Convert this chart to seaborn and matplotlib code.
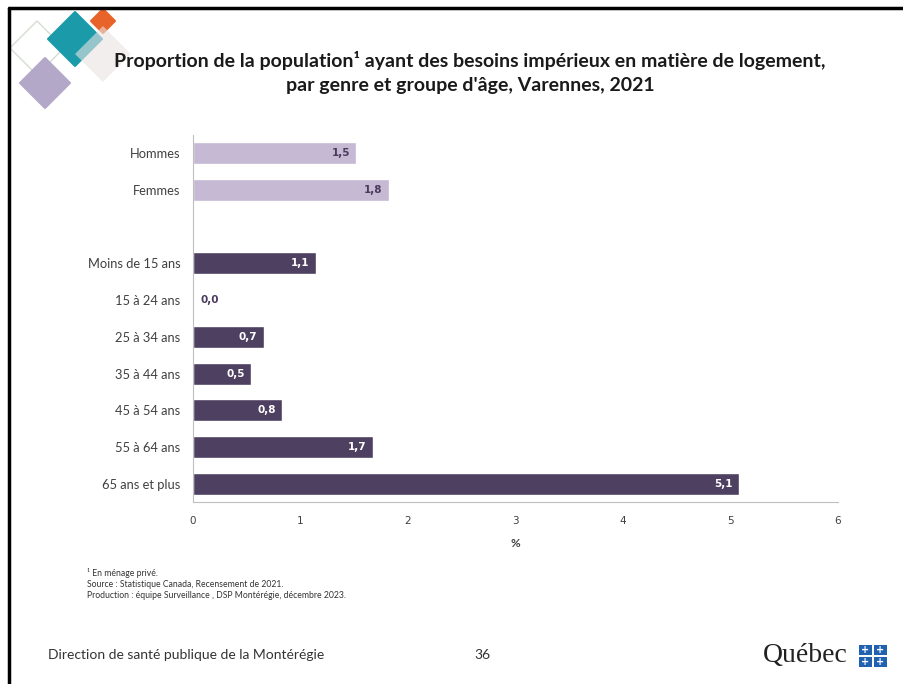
import matplotlib
matplotlib.use("Agg")
import matplotlib.pyplot as plt
import matplotlib.patches as mpatches
import seaborn as sb
import pandas as pd

# Données (%)
categories = ['Hommes', 'Femmes', 'Moins de 15 ans', '15 à 24 ans', '25 à 34 ans',
              '35 à 44 ans', '45 à 54 ans', '55 à 64 ans', '65 ans et plus']
valeurs = [1.52, 1.82, 1.14, 0.0, 0.66, 0.54, 0.83, 1.67, 5.08]
groupes = ['genre', 'genre', 'age', 'age', 'age', 'age', 'age', 'age', 'age']
ordre = ['Hommes', 'Femmes', ' ', 'Moins de 15 ans', '15 à 24 ans', '25 à 34 ans',
         '35 à 44 ans', '45 à 54 ans', '55 à 64 ans', '65 ans et plus']
x_ticks = [0, 1, 2, 3, 4, 5, 6]

couleurs = {'genre': '#c4b5d8', 'age': '#4d3b66'}
couleurs_txt = {'genre': '#4a3b5e', 'age': '#ffffff'}

df = pd.DataFrame({'Categorie': categories, 'Valeur': valeurs, 'Groupe': groupes})

sb.set_style("white")
plt.rcParams['font.family'] = ['Lato', 'DejaVu Sans']

fig = plt.figure(figsize=(9.04, 6.84), dpi=100)

# Cadre de la diapositive (haut et gauche)
fig.add_artist(plt.Line2D([9 / 904, 1], [1 - 8 / 684, 1 - 8 / 684], color='black', lw=2.5))
fig.add_artist(plt.Line2D([9 / 904, 9 / 904], [0, 1 - 8 / 684], color='black', lw=2.5))


# Losanges décoratifs en haut à gauche
def losange(cx, cy, r, **kw):
    pts = [(cx / 904, 1 - (cy - r) / 684), ((cx + r) / 904, 1 - cy / 684),
           (cx / 904, 1 - (cy + r) / 684), ((cx - r) / 904, 1 - cy / 684)]
    fig.add_artist(mpatches.Polygon(pts, closed=True, transform=fig.transFigure,
                                    joinstyle='round', **kw))


losange(37, 48, 27, facecolor='none', edgecolor='#d5ddd3', lw=1)
losange(75, 39, 27, facecolor='#1b9aaa', edgecolor='#1b9aaa', lw=1.5)
losange(103, 21, 12, facecolor='#e8632a', edgecolor='#e8632a', lw=1.5)
losange(103, 54, 28, facecolor='#e9e4e2', edgecolor='none', alpha=0.6)
losange(45, 83, 25, facecolor='#b4a8c9', edgecolor='#b4a8c9', lw=1.5)

# Titre
fig.text(0.52, 1 - 60 / 684, "Proportion de la population\u00b9 ayant des besoins impérieux en matière de logement,",
         ha='center', va='center', fontsize=14, fontweight='bold', color='#1a1a1a')
fig.text(0.52, 1 - 85 / 684, "par genre et groupe d'âge, Varennes, 2021",
         ha='center', va='center', fontsize=14, fontweight='bold', color='#1a1a1a')

# Graphique
ax = fig.add_axes([193 / 904, 1 - 502 / 684, (838 - 193) / 904, (502 - 135) / 684])
sb.barplot(data=df, x='Valeur', y='Categorie', hue='Groupe', order=ordre,
           palette=couleurs, dodge=False, width=0.6, legend=False, ax=ax)

for i, cat in enumerate(ordre):
    if cat not in categories:
        continue
    k = categories.index(cat)
    v = valeurs[k]
    lab = f"{v:.1f}".replace('.', ',')
    if v > 0.2:
        ax.text(v - 0.06, i, lab, ha='right', va='center', fontsize=7.5, fontweight='bold',
                color=couleurs_txt[groupes[k]], family='DejaVu Sans')
    else:
        ax.text(v + 0.07, i, lab, ha='left', va='center', fontsize=7.5, fontweight='bold',
                color='#4a3b5e', family='DejaVu Sans')

ax.set_xlim(0, 6)
ax.set_ylim(len(ordre) - 0.5, -0.5)
ax.set_xticks(x_ticks)
ax.set_xticklabels([str(t) for t in x_ticks], family='DejaVu Sans', fontsize=7.5, color='#404040')
ax.set_xlabel('%', fontsize=8.5, fontweight='bold', color='#404040', labelpad=9)
ax.set_ylabel('')
ax.tick_params(axis='y', length=0, pad=9, labelsize=9.3, labelcolor='#404040')
ax.tick_params(axis='x', direction='out', length=4, width=0.8, color='#bfbfbf', pad=6)
for s in ['top', 'right']:
    ax.spines[s].set_visible(False)
for s in ['left', 'bottom']:
    ax.spines[s].set_color('#bfbfbf')
    ax.spines[s].set_linewidth(0.8)

# Notes
notes = ["\u00b9 En ménage privé.",
         "Source : Statistique Canada, Recensement de 2021.",
         "Production : équipe Surveillance , DSP Montérégie, décembre 2023."]
for j, t in enumerate(notes):
    fig.text(87 / 904, 1 - (573 + j * 11.5) / 684, t, fontsize=6.2, color='#333333', va='center')

# Pied de page
fig.text(48 / 904, 1 - 655 / 684, "Direction de santé publique de la Montérégie",
         fontsize=10, color='#333333', va='center')
fig.text(482 / 904, 1 - 655 / 684, "36", fontsize=10, color='#333333', va='center', ha='center')
fig.text(805 / 904, 1 - 656 / 684, "Québec", fontsize=20, color='#222222', va='center', ha='center',
         family='Liberation Serif')
for dx in [0, 1]:
    for dy in [0, 1]:
        x0 = (859 + dx * 15) / 904
        y0 = 1 - (655 + dy * 12) / 684
        fig.add_artist(mpatches.Rectangle((x0, y0), 13 / 904, 10 / 684, transform=fig.transFigure,
                                          facecolor='#2161b0', edgecolor='none'))
        fig.text(x0 + 6.5 / 904, y0 + 5 / 684, '+', fontsize=7, color='white', ha='center',
                 va='center', fontweight='bold', family='DejaVu Sans')

fig.savefig('out.png', dpi=100, facecolor='white')
